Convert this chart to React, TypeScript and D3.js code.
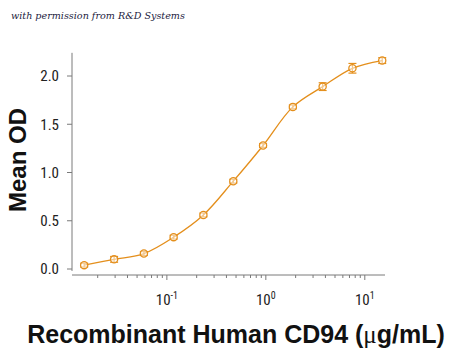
import { useEffect, useRef } from "react";
import * as d3 from "d3";

// concentrations (µg/mL), two-fold dilutions
const conc = [0.0146, 0.0293, 0.0586, 0.117, 0.234, 0.469, 0.9375, 1.875, 3.75, 7.5, 15];
const meanOD = [0.04, 0.1, 0.16, 0.33, 0.56, 0.91, 1.28, 1.68, 1.89, 2.08, 2.16];
const errOD = [0.02, 0.03, 0.02, 0.02, 0.02, 0.02, 0.02, 0.02, 0.04, 0.05, 0.03];
const yTicks = [0, 0.5, 1.0, 1.5, 2.0];
const xDecades = [0.1, 1, 10];
const xExp = ["-1", "0", "1"];

export default function App() {
    const svgRef = useRef<SVGSVGElement | null>(null);

    useEffect(() => {
        if (!svgRef.current) return;
        const svg = d3.select(svgRef.current);
        svg.selectAll("*").remove();

        const orange = "#e48f1c";
        const axisColor = "#7a7a7a";
        const tickFont = "'Liberation Sans Narrow', 'Roboto Condensed', 'Liberation Sans', sans-serif";

        const x = d3.scaleLog().domain([0.011, 16]).range([72, 385]);
        const y = d3.scaleLinear().domain([0, 2]).range([269, 76]);

        // watermark
        svg.append("text")
            .attr("x", 11)
            .attr("y", 19)
            .attr("font-family", "'DejaVu Serif', serif")
            .attr("font-style", "italic")
            .attr("font-size", 9.6)
            .attr("fill", "#1c2240")
            .text("with permission from R&D Systems");

        // y axis
        const gy = svg.append("g");
        gy.append("line")
            .attr("x1", 72).attr("x2", 72)
            .attr("y1", y(2.24)).attr("y2", y(-0.02))
            .attr("stroke", axisColor).attr("stroke-width", 1);
        gy.selectAll(".yt")
            .data(yTicks)
            .enter()
            .append("line")
            .attr("x1", 67).attr("x2", 72)
            .attr("y1", (d) => y(d)).attr("y2", (d) => y(d))
            .attr("stroke", axisColor);
        gy.selectAll(".yl")
            .data(yTicks)
            .enter()
            .append("text")
            .attr("x", 59)
            .attr("y", (d) => y(d))
            .attr("dy", "0.35em")
            .attr("text-anchor", "end")
            .attr("font-family", tickFont)
            .attr("font-size", 15)
            .attr("fill", "#222")
            .text((d) => d3.format(".1f")(d));

        // x axis
        const axisY = 275;
        const gx = svg.append("g");
        gx.append("line")
            .attr("x1", 72).attr("x2", 385)
            .attr("y1", axisY).attr("y2", axisY)
            .attr("stroke", axisColor);
        const minor: number[] = [];
        [0.01, 0.1, 1, 10].forEach((dec) => {
            for (let k = 2; k <= 9; k++) {
                const v = dec * k;
                if (v > x.domain()[0] && v < x.domain()[1]) minor.push(v);
            }
        });
        gx.selectAll(".mt")
            .data(minor)
            .enter()
            .append("line")
            .attr("x1", (d) => x(d)).attr("x2", (d) => x(d))
            .attr("y1", axisY).attr("y2", axisY + 3)
            .attr("stroke", axisColor);
        gx.selectAll(".Mt")
            .data(xDecades)
            .enter()
            .append("line")
            .attr("x1", (d) => x(d)).attr("x2", (d) => x(d))
            .attr("y1", axisY).attr("y2", axisY + 5)
            .attr("stroke", axisColor);
        const lbl = gx.selectAll(".xl")
            .data(xDecades)
            .enter()
            .append("text")
            .attr("x", (d) => x(d))
            .attr("y", 305)
            .attr("text-anchor", "middle")
            .attr("font-family", tickFont)
            .attr("font-size", 15)
            .attr("fill", "#222");
        lbl.append("tspan").text("10");
        lbl.append("tspan")
            .attr("dy", -6)
            .attr("font-size", 10)
            .text((_, i) => xExp[i]);

        // axis titles
        svg.append("text")
            .attr("transform", "translate(26,160) rotate(-90)")
            .attr("text-anchor", "middle")
            .attr("font-family", "'Liberation Sans', Arial, sans-serif")
            .attr("font-weight", "bold")
            .attr("font-size", 24)
            .attr("fill", "#111")
            .text("Mean OD");

        const xt = svg.append("text")
            .attr("x", 236)
            .attr("y", 343)
            .attr("text-anchor", "middle")
            .attr("font-family", "'Liberation Sans', Arial, sans-serif")
            .attr("font-weight", "bold")
            .attr("font-size", 25)
            .attr("fill", "#111");
        xt.append("tspan").text("Recombinant Human CD94 (");
        xt.append("tspan")
            .attr("font-family", "'Liberation Serif', serif")
            .attr("font-weight", "normal")
            .text("\u03bc");
        xt.append("tspan").text("g/mL)");

        const data = conc.map((c, i) => ({ c, v: meanOD[i], e: errOD[i] }));

        // curve through the points
        const line = d3.line<{ c: number; v: number }>()
            .x((d) => x(d.c))
            .y((d) => y(d.v))
            .curve(d3.curveCatmullRom.alpha(0.5));
        svg.append("path")
            .datum(data)
            .attr("d", line)
            .attr("fill", "none")
            .attr("stroke", orange)
            .attr("stroke-width", 1.3);

        // error bars
        const eb = svg.selectAll(".eb").data(data).enter().append("g");
        eb.append("line")
            .attr("x1", (d) => x(d.c)).attr("x2", (d) => x(d.c))
            .attr("y1", (d) => y(d.v - d.e)).attr("y2", (d) => y(d.v + d.e))
            .attr("stroke", orange).attr("stroke-width", 1.2);
        [-1, 1].forEach((s) => {
            eb.append("line")
                .attr("x1", (d) => x(d.c) - 4).attr("x2", (d) => x(d.c) + 4)
                .attr("y1", (d) => y(d.v + s * d.e)).attr("y2", (d) => y(d.v + s * d.e))
                .attr("stroke", orange).attr("stroke-width", 1.2);
        });

        // markers
        svg.selectAll(".pt")
            .data(data)
            .enter()
            .append("circle")
            .attr("cx", (d) => x(d.c))
            .attr("cy", (d) => y(d.v))
            .attr("r", 3.6)
            .attr("fill", "#fff")
            .attr("fill-opacity", 0.5)
            .attr("stroke", orange)
            .attr("stroke-width", 1.3);
    }, []);

    return (
        <svg
            ref={svgRef}
            width={450}
            height={354}
            style={{ position: "absolute", left: 0, top: 0, background: "#fff" }}
        />
    );
}
